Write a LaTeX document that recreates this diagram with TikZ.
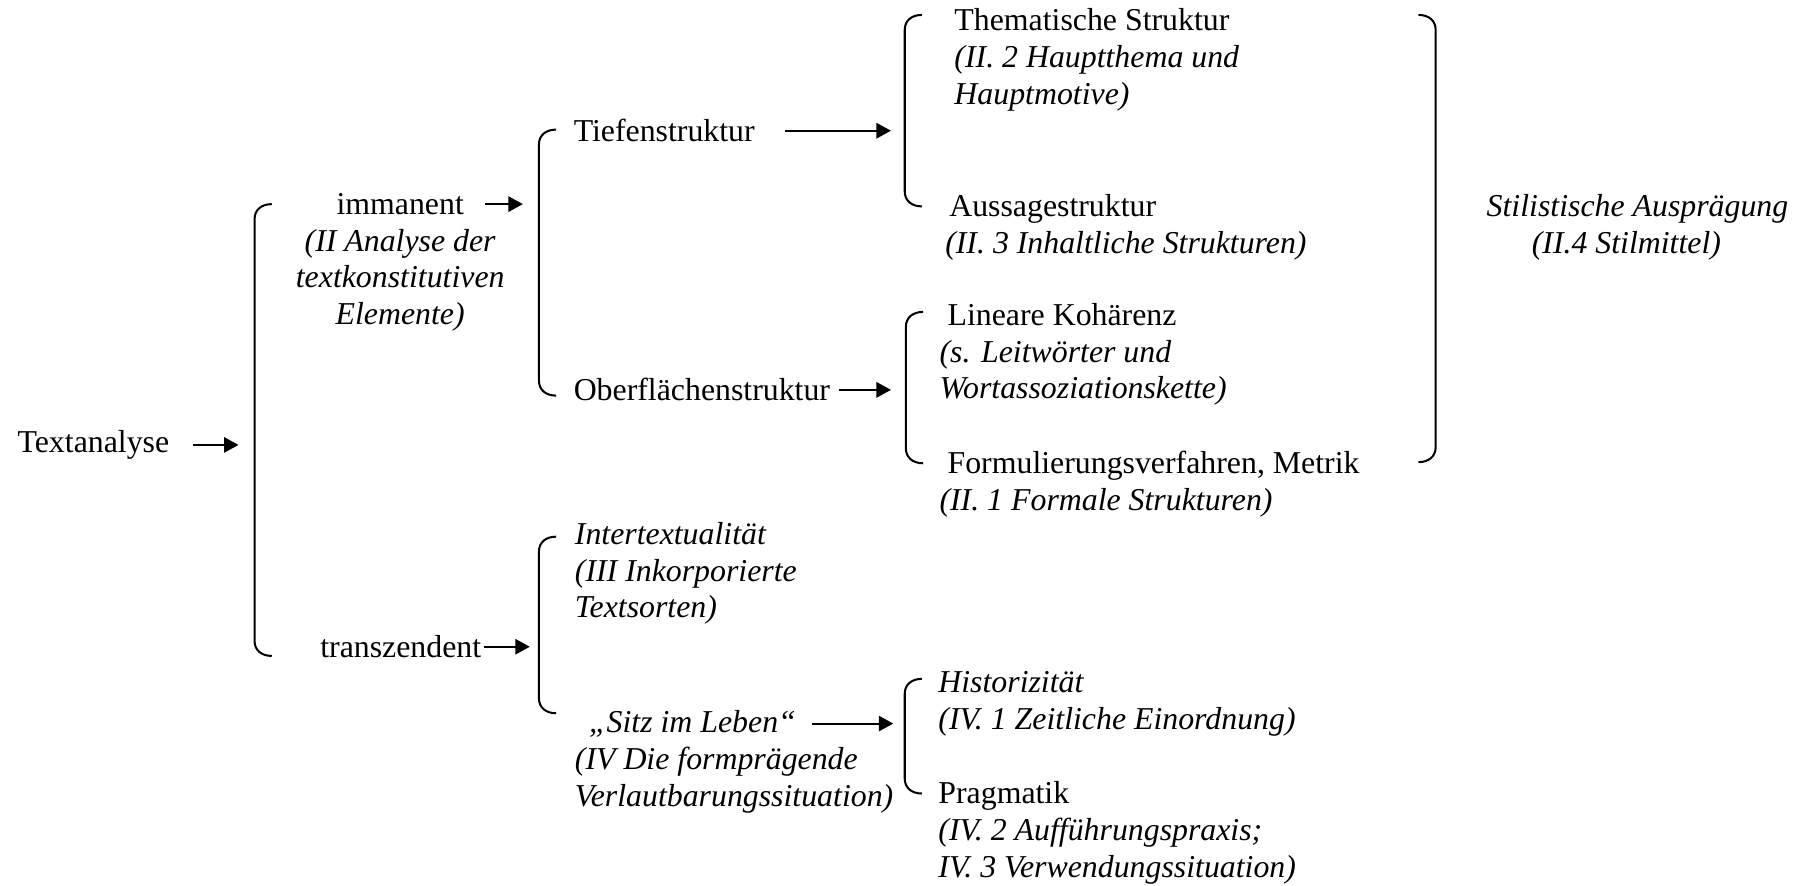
\documentclass[tikz,border=0pt]{standalone}
\usepackage{fontspec}
\setmainfont{Liberation Serif}
\usetikzlibrary{arrows.meta}
\newcommand{\mylbr}[3]{%
  \draw[brk] (#1+15,#2) .. controls (#1+6,#2) and (#1,#2+5) .. (#1,#2+13) -- (#1,#3-13) .. controls (#1,#3-5) and (#1+6,#3) .. (#1+15,#3);}
\newcommand{\myrbr}[3]{%
  \draw[brk] (#1-15,#2) .. controls (#1-6,#2) and (#1,#2+5) .. (#1,#2+13) -- (#1,#3-13) .. controls (#1,#3-5) and (#1-6,#3) .. (#1-15,#3);}
\begin{document}
\begin{tikzpicture}[x=0.02cm,y=-0.02cm,
  every node/.style={inner sep=0pt, font=\fontsize{15.8}{18.3}\selectfont},
  lbl/.style={anchor=west},
  blk/.style={anchor=north west, align=left},
  arr/.style={-{Triangle[length=7.2pt,width=7.6pt]}, line width=1pt},
  brk/.style={line width=1pt}]
\useasboundingbox (0,0) rectangle (1568,772);

% level 0
\node[lbl] (tex) at (15,388) {Textanalyse};
\coordinate (texT) at (208,388);
\draw[arr] (tex.east) ++(20,0) -- (texT);
\mylbr{222}{178}{572}

% level 1
\node[align=center, anchor=north] (imm) at (349,168) {immanent\\ \textit{(II Analyse der}\\ \textit{textkonstitutiven}\\ \textit{Elemente)}};
\coordinate (immS) at (423,178);
\coordinate (immT) at (456,178);
\draw[arr] (immS) -- (immT);

\node[lbl] (tra) at (279,564) {transzendent};
\coordinate (traT) at (462,564);
\draw[arr] (tra.east) ++(2,0) -- (traT);

% level 2 (immanent)
\mylbr{470}{113}{345}
\node[lbl] (tief) at (500,114) {Tiefenstruktur};
\coordinate (tiefT) at (777,114);
\draw[arr] (tief.east) ++(26,0) -- (tiefT);

\node[lbl] (ober) at (500,340) {Oberflächenstruktur};
\coordinate (oberT) at (777,340);
\draw[arr] (ober.east) ++(7,0) -- (oberT);

% level 3 Tiefenstruktur
\mylbr{789}{13}{180}
\node[blk] (them) at (832,7) {Thematische Struktur\\ \textit{(II. 2 Hauptthema und}\\ \textit{Hauptmotive)}};
\node[blk] (auss) at (824,169) {\hspace{2pt}Aussagestruktur\\ \textit{(II. 3 Inhaltliche Strukturen)}};

% level 3 Oberflaechenstruktur
\mylbr{790}{272}{404}
\node[blk] (lin) at (819,264) {\hspace{4pt}Lineare Kohärenz\\ \textit{(s. Leitwörter und}\\ \textit{Wortassoziationskette)}};
\node[blk] (form) at (819,393) {\hspace{4pt}Formulierungsverfahren, Metrik\\ \textit{(II. 1 Formale Strukturen)}};

% right bracket
\myrbr{1252}{13}{403}
\node[align=center, anchor=north] (stil) at (1428,169) {\textit{Stilistische Ausprägung}\\ \textit{(II.4 Stilmittel)}\rule{11pt}{0pt}};

% level 2 (transzendent)
\mylbr{470}{468}{622}
\node[blk] (inter) at (501,455) {\textit{Intertextualität}\\ \textit{(III Inkorporierte}\\ \textit{Textsorten)}};
\node[blk] (sitz) at (501,619) {\textit{\hspace{7pt}„Sitz im Leben“}\\ \textit{(IV Die formprägende}\\ \textit{Verlautbarungssituation)}};
\coordinate (sitzS) at (708,631);
\coordinate (sitzT) at (779,631);
\draw[arr] (sitzS) -- (sitzT);

% level 3 Sitz im Leben
\mylbr{789}{592}{692}
\node[blk] (hist) at (818,585) {\textit{Historizität}\\ \textit{(IV. 1 Zeitliche Einordnung)}};
\node[blk] (prag) at (818,681) {Pragmatik\\ \textit{(IV. 2 Aufführungspraxis;}\\ \textit{IV. 3 Verwendungssituation)}};
\end{tikzpicture}
\end{document}
